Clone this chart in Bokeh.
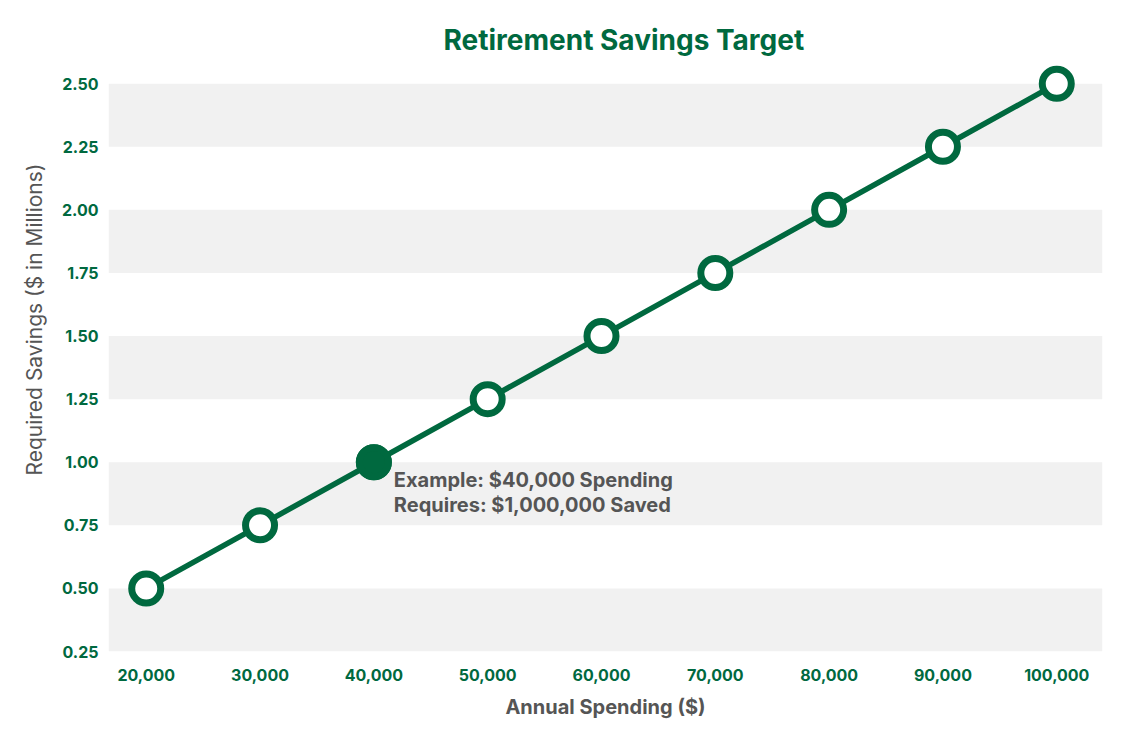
from bokeh.plotting import figure
from bokeh.models import (ColumnDataSource, FixedTicker, NumeralTickFormatter,
                          BoxAnnotation, Range1d, Title)
from bokeh.core.properties import value
from bokeh.embed import file_html
from bokeh.resources import INLINE

# ---- data ----
spending = [20000, 30000, 40000, 50000, 60000, 70000, 80000, 90000, 100000]
savings = [0.50, 0.75, 1.00, 1.25, 1.50, 1.75, 2.00, 2.25, 2.50]
highlight_spending = [40000]
highlight_savings = [1.00]
annotation_lines = ["Example: $40,000 Spending", "Requires: $1,000,000 Saved"]
y_ticks = [0.25, 0.50, 0.75, 1.00, 1.25, 1.50, 1.75, 2.00, 2.25, 2.50]
x_ticks = [20000, 30000, 40000, 50000, 60000, 70000, 80000, 90000, 100000]
band_bottoms = [0.25, 0.75, 1.25, 1.75, 2.25]
band_tops = [0.50, 1.00, 1.50, 2.00, 2.50]
title_text = "Retirement Savings Target"
x_label = "Annual Spending ($)"
y_label = "Required Savings ($ in Millions)"

GREEN = "#00693F"
GRAY_TEXT = "#555555"
BAND = "#F1F1F1"
FONT = "Inter"

p = figure(width=1112, height=724, output_backend="svg", toolbar_location=None,
           x_range=Range1d(16686, 104018), y_range=Range1d(0.25, 2.58),
           min_border_left=108, min_border_right=10, min_border_top=63,
           min_border_bottom=73, outline_line_color=None,
           title=title_text)

p.title.text_font = FONT
p.title.text_font_size = "28px"
p.title.text_font_style = "bold"
p.title.text_color = GREEN
p.title.align = "left"
p.title.offset = 335
p.title.standoff = 14

p.xgrid.visible = False
p.ygrid.visible = False

for b, t in zip(band_bottoms, band_tops):
    p.add_layout(BoxAnnotation(bottom=b, top=t, fill_color=BAND, fill_alpha=1.0,
                               line_color=None, level="underlay"))

src = ColumnDataSource(dict(x=spending, y=savings))
p.line("x", "y", source=src, line_color=GREEN, line_width=5.5)
p.scatter("x", "y", source=src, size=29, fill_color="white", line_color=GREEN,
          line_width=7)
p.scatter(highlight_spending, highlight_savings, size=29, fill_color=GREEN,
          line_color=GREEN, line_width=7)

ann = ColumnDataSource(dict(
    x=[highlight_spending[0]] * len(annotation_lines),
    y=[highlight_savings[0]] * len(annotation_lines),
    text=annotation_lines,
    yo=[18 + 25 * i for i in range(len(annotation_lines))],
))
p.text("x", "y", text="text", source=ann, x_offset=20, y_offset="yo",
       text_font=value(FONT), text_font_style="bold", text_font_size="20px",
       text_color=GRAY_TEXT, text_baseline="middle", text_align="left")

for ax in (p.xaxis[0], p.yaxis[0]):
    ax.axis_line_color = None
    ax.major_tick_line_color = None
    ax.minor_tick_line_color = None
    ax.major_label_text_font = FONT
    ax.major_label_text_font_style = "bold"
    ax.major_label_text_font_size = "16px"
    ax.major_label_text_color = GREEN
    ax.axis_label_text_font = FONT
    ax.axis_label_text_color = GRAY_TEXT

p.xaxis.ticker = FixedTicker(ticks=x_ticks)
p.xaxis.formatter = NumeralTickFormatter(format="0,0")
p.xaxis.major_label_standoff = 11
p.xaxis.axis_label = x_label
p.xaxis.axis_label_text_font_style = "bold"
p.xaxis.axis_label_text_font_size = "20px"
p.xaxis.axis_label_standoff = 11

p.yaxis.ticker = FixedTicker(ticks=y_ticks)
p.yaxis.formatter = NumeralTickFormatter(format="0.00")
p.yaxis.major_label_standoff = 4

# y-axis title as a side title, so it can sit above the frame's middle as in the original
p.add_layout(Title(text=y_label, align="right", offset=100, standoff=23,
                   text_font=FONT, text_font_size="21px", text_font_style="normal",
                   text_color=GRAY_TEXT), "left")

open("out.html", "w").write(file_html(p, INLINE))
